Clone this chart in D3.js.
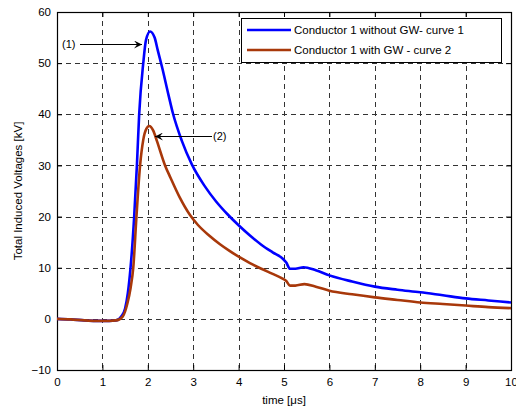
<!DOCTYPE html>
<html>
<head>
<meta charset="utf-8">
<script src="https://cdn.jsdelivr.net/npm/d3@7"></script>
<style>
  body { margin: 0; background: #fff; }
  svg { display: block; font-family: "Liberation Sans", Arial, sans-serif; }
  .grid line { stroke: #333; stroke-dasharray: 5,4; }
</style>
</head>
<body>
<div id="canvas"></div>
<script>
// time in microseconds
var tBlue = [0,0.3,0.6,1.0,1.3,1.42,1.5,1.56,1.62,1.7,1.76,1.81,1.9,1.96,2.05,2.15,2.22,2.32,2.45,2.55,2.75,2.97,3.25,3.5,3.75,4.0,4.25,4.5,4.75,4.98,5.05,5.13,5.25,5.43,5.7,6,6.5,7,7.5,8,8.5,9,9.5,10]
var vBlue = [0,-0.1,-0.3,-0.4,-0.3,0.5,2,5,10,20,30,40,50,54.5,56.2,55,52.5,49,44,40.3,34.8,30.2,26,23,20.5,18.3,16.3,14.5,13,11.7,11,9.8,9.8,10.1,9.5,8.5,7.3,6.3,5.7,5.2,4.6,4.0,3.6,3.2]

var tRed = [0,0.3,0.6,1.0,1.3,1.45,1.55,1.62,1.68,1.75,1.83,1.9,1.97,2.03,2.12,2.2,2.38,2.5,2.7,2.93,3.1,3.35,3.59,3.8,4.03,4.25,4.5,4.75,4.98,5.05,5.13,5.25,5.45,5.7,6,6.5,7,7.5,8,8.5,9,9.5,10]
var vRed = [0,-0.1,-0.3,-0.4,-0.3,0.5,3,6,10,20,30,35,37.2,37.7,36.8,34.8,30,27.6,23.8,20.3,18.4,16.3,14.6,13.3,12,10.9,9.8,8.8,7.8,7.4,6.5,6.5,6.8,6.3,5.5,4.8,4.2,3.7,3.2,2.9,2.6,2.3,2.1]

var seriesNames = ['Conductor 1 without GW- curve 1', 'Conductor 1 with GW - curve 2']
var seriesColors = ['#0000ff', '#a8380a']

var xTicks = [0,1,2,3,4,5,6,7,8,9,10]
var yTicks = [-10,0,10,20,30,40,50,60]

var W = 516, H = 409
var mLeft = 57, mRight = 511, mTop = 12, mBottom = 370

var Svg = d3.select('#canvas').append('svg')
  .attr('width', W).attr('height', H)

var xScale = d3.scaleLinear().domain([0, 10]).range([mLeft, mRight])
var yScale = d3.scaleLinear().domain([-10, 60]).range([mBottom, mTop])

// grid
var grid = Svg.append('g').attr('class', 'grid')
grid.selectAll('.gx').data(xTicks.slice(1, -1)).enter().append('line')
  .attr('x1', d => Math.round(xScale(d)) + 0.5).attr('x2', d => Math.round(xScale(d)) + 0.5)
  .attr('y1', mTop).attr('y2', mBottom)
grid.selectAll('.gy').data(yTicks.slice(1, -1)).enter().append('line')
  .attr('y1', d => Math.round(yScale(d)) + 0.5).attr('y2', d => Math.round(yScale(d)) + 0.5)
  .attr('x1', mLeft).attr('x2', mRight)

// axes
var xAxis = d3.axisBottom(xScale).tickValues(xTicks).tickSize(-5).tickPadding(8).tickSizeOuter(0)
var yAxis = d3.axisLeft(yScale).tickValues(yTicks).tickSize(-5).tickPadding(6).tickSizeOuter(0)
var xAxisTop = d3.axisTop(xScale).tickValues(xTicks).tickSize(-5).tickFormat('').tickSizeOuter(0)
var yAxisRight = d3.axisRight(yScale).tickValues(yTicks).tickSize(-5).tickFormat('').tickSizeOuter(0)

function styleAxis(g) {
  g.select('.domain').remove()
  g.selectAll('text').attr('fill', '#000').style('font-size', '11.5px')
    .style('font-family', '"Liberation Sans", Arial, sans-serif')
  g.selectAll('line').attr('stroke', '#000')
}

Svg.append('g').attr('transform', 'translate(0,' + mBottom + ')').call(xAxis).call(styleAxis)
Svg.append('g').attr('transform', 'translate(' + mLeft + ',0)').call(yAxis).call(styleAxis)
Svg.append('g').attr('transform', 'translate(0,' + mTop + ')').call(xAxisTop).call(styleAxis)
Svg.append('g').attr('transform', 'translate(' + mRight + ',0)').call(yAxisRight).call(styleAxis)

Svg.append('rect')
  .attr('x', mLeft + 0.5).attr('y', mTop + 0.5)
  .attr('width', mRight - mLeft).attr('height', mBottom - mTop)
  .attr('fill', 'none').attr('stroke', '#000').attr('stroke-width', 1.2)

// curves
var line = d3.line()
  .x(d => xScale(d[0])).y(d => yScale(d[1]))
  .curve(d3.curveMonotoneX)

var series = [d3.zip(tBlue, vBlue), d3.zip(tRed, vRed)]
var plot = Svg.append('g')
series.forEach(function (s, i) {
  plot.append('path').datum(s)
    .attr('d', line)
    .attr('fill', 'none')
    .attr('stroke', seriesColors[i])
    .attr('stroke-width', 2.6)
    .attr('stroke-linejoin', 'round')
})

// annotations
Svg.append('defs').append('marker')
  .attr('id', 'arr').attr('viewBox', '0 0 10 10')
  .attr('refX', 10).attr('refY', 5)
  .attr('markerWidth', 12).attr('markerHeight', 8)
  .attr('markerUnits', 'userSpaceOnUse')
  .attr('orient', 'auto')
  .append('path').attr('d', 'M0,0 L10,5 L0,10 L4,5 Z').attr('fill', '#000')

Svg.append('text').attr('x', 62).attr('y', 48).text('(1)')
  .style('font-size', '11px')
Svg.append('line').attr('x1', 80).attr('y1', 44.5).attr('x2', 142).attr('y2', 44.5)
  .attr('stroke', '#000').attr('marker-end', 'url(#arr)')

Svg.append('text').attr('x', 213).attr('y', 140).text('(2)')
  .style('font-size', '11px')
Svg.append('line').attr('x1', 212).attr('y1', 136.5).attr('x2', 155).attr('y2', 136.5)
  .attr('stroke', '#000').attr('marker-end', 'url(#arr)')

// legend
var lg = Svg.append('g')
lg.append('rect')
  .attr('x', 241.5).attr('y', 18.5).attr('width', 260).attr('height', 44)
  .attr('fill', '#fff').attr('stroke', '#000').attr('stroke-width', 1)
seriesNames.forEach(function (n, i) {
  var yy = 30 + i * 20
  lg.append('line').attr('x1', 247).attr('x2', 291).attr('y1', yy).attr('y2', yy)
    .attr('stroke', seriesColors[i]).attr('stroke-width', 2.6)
  lg.append('text').attr('x', 294).attr('y', yy + 4).text(n)
    .style('font-size', '11.5px')
})

// axis titles
Svg.append('text').attr('x', (mLeft + mRight) / 2).attr('y', 404)
  .attr('text-anchor', 'middle').style('font-size', '11.5px')
  .text('time [μs]')
Svg.append('text')
  .attr('transform', 'translate(22,' + ((mTop + mBottom) / 2) + ') rotate(-90)')
  .attr('text-anchor', 'middle').style('font-size', '11.5px')
  .text('Total Induced Voltages [kV]')
</script>
</body>
</html>
